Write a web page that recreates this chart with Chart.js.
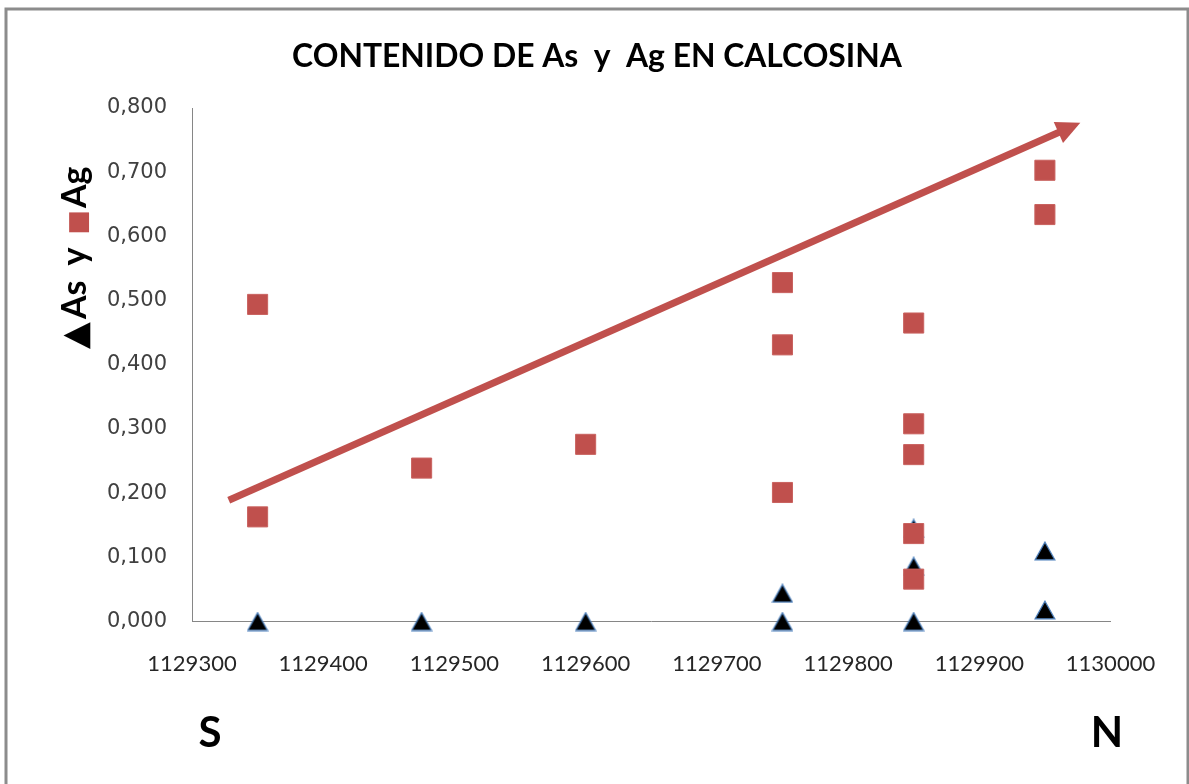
<!DOCTYPE html>
<html><head><meta charset="utf-8">
<script src="https://cdn.jsdelivr.net/npm/chart.js@4/dist/chart.umd.min.js"></script>
<style>html,body{margin:0;padding:0;background:#fff}#wrap{position:absolute;left:0;top:0;width:1189px;height:784px}</style>
</head><body><div id="wrap"><canvas id="c" width="1189" height="784"></canvas></div>
<script>
// ---- data ----
const titleText = 'CONTENIDO DE As  y  Ag EN CALCOSINA';
const xMin = 1129300, xMax = 1130000, xStep = 100;
const yMin = 0, yMax = 0.8, yStep = 0.1;
const agX = [1129350, 1129350, 1129475, 1129600, 1129750, 1129750, 1129750, 1129850, 1129850, 1129850, 1129850, 1129850, 1129950, 1129950];
const agY = [0.494, 0.163, 0.239, 0.276, 0.528, 0.431, 0.201, 0.465, 0.308, 0.260, 0.137, 0.066, 0.703, 0.634];
const asX = [1129350, 1129475, 1129600, 1129750, 1129750, 1129850, 1129850, 1129850, 1129950, 1129950];
const asY = [0.000, 0.000, 0.000, 0.044, 0.000, 0.145, 0.086, 0.000, 0.110, 0.018];
const trendX = [1129328, 1129977];
const trendY = [0.189, 0.777];
const FONT = 'Lato, "Open Sans", "DejaVu Sans", sans-serif';
const yLabelParts = [
  {t: '▲', c: '#000000', f: 'bold 35px "DejaVu Sans"', gap: 3},
  {t: 'As', c: '#000000', f: 'bold 34px ' + FONT, gap: 15},
  {t: 'y', c: '#000000', f: 'bold 34px ' + FONT, gap: 13},
  {t: '■', c: '#C0504D', f: '26px "DejaVu Sans"', gap: 2},
  {t: 'Ag', c: '#000000', f: 'bold 34px ' + FONT, gap: 0}
];
const sideLabels = [{t: 'S', x: 210}, {t: 'N', x: 1107}];

// ---- styles ----
const RED = '#C0504D';
const triCanvas = document.createElement('canvas');
triCanvas.width = 22; triCanvas.height = 20;
(function () {
  const g = triCanvas.getContext('2d');
  g.beginPath();
  g.moveTo(11, 1.2); g.lineTo(20.8, 18.8); g.lineTo(1.2, 18.8); g.closePath();
  g.fillStyle = '#000'; g.fill();
  g.lineWidth = 1.3; g.strokeStyle = '#4A7EBB'; g.stroke();
})();

const deco = {
  id: 'deco',
  beforeDraw(chart) {
    const ctx = chart.ctx;
    ctx.save();
    ctx.fillStyle = '#fff';
    ctx.fillRect(0, 0, chart.width, chart.height);
    ctx.strokeStyle = '#8c8c8c';
    ctx.lineWidth = 3;
    ctx.beginPath();
    ctx.moveTo(6, 800); ctx.lineTo(6, 9); ctx.lineTo(1188, 9); ctx.lineTo(1188, 800);
    ctx.stroke();
    ctx.restore();
  },
  afterDatasetsDraw(chart) {
    const ctx = chart.ctx, xs = chart.scales.x, ys = chart.scales.y;
    const x1 = xs.getPixelForValue(trendX[0]), y1 = ys.getPixelForValue(trendY[0]);
    const x2 = xs.getPixelForValue(trendX[1]), y2 = ys.getPixelForValue(trendY[1]);
    const a = Math.atan2(y2 - y1, x2 - x1), c = Math.cos(a), s = Math.sin(a);
    const hl = 24, hw = 11.5;
    const bx = x2 - hl * c, by = y2 - hl * s;
    ctx.save();
    ctx.strokeStyle = RED; ctx.fillStyle = RED;
    ctx.lineWidth = 7; ctx.lineCap = 'butt';
    ctx.beginPath(); ctx.moveTo(x1, y1); ctx.lineTo(bx + 2 * c, by + 2 * s); ctx.stroke();
    ctx.beginPath();
    ctx.moveTo(x2, y2);
    ctx.lineTo(bx - hw * s, by + hw * c);
    ctx.lineTo(bx + hw * s, by - hw * c);
    ctx.closePath(); ctx.fill();
    ctx.restore();
  },
  afterDraw(chart) {
    const ctx = chart.ctx;
    ctx.save();
    // title
    ctx.fillStyle = '#000';
    ctx.textBaseline = 'alphabetic';
    ctx.font = 'bold 32px ' + FONT;
    let w = ctx.measureText(titleText).width;
    const fs = 32 * 610 / w;
    ctx.font = 'bold ' + fs.toFixed(2) + 'px ' + FONT;
    ctx.textAlign = 'center';
    ctx.fillText(titleText, 597, 67);
    // S / N
    ctx.font = 'bold 42px ' + FONT;
    sideLabels.forEach(l => ctx.fillText(l.t, l.x, 747));
    // rotated y label
    ctx.translate(86, 349);
    ctx.rotate(-Math.PI / 2);
    ctx.textAlign = 'left';
    let px = 0;
    yLabelParts.forEach(p => {
      ctx.font = p.f; ctx.fillStyle = p.c;
      ctx.fillText(p.t, px, 0);
      px += ctx.measureText(p.t).width + p.gap;
    });
    ctx.restore();
  }
};

new Chart(document.getElementById('c'), {
  type: 'scatter',
  data: {
    datasets: [
      {
        label: 'Ag',
        data: agX.map((x, i) => ({x: x, y: agY[i]})),
        pointStyle: 'rect', pointRadius: 14.2, pointHoverRadius: 14.2,
        backgroundColor: RED, borderColor: '#c9625f', borderWidth: 1,
        order: 0, clip: false
      },
      {
        label: 'As',
        data: asX.map((x, i) => ({x: x, y: asY[i]})),
        pointStyle: triCanvas, pointRadius: 10, pointHoverRadius: 10,
        backgroundColor: '#000', borderColor: '#4A7EBB',
        order: 1, clip: false
      }
    ]
  },
  options: {
    responsive: false, animation: false, devicePixelRatio: 1,
    layout: {padding: {top: 108, right: 78.5, left: 0, bottom: 0}},
    plugins: {legend: {display: false}, tooltip: {enabled: false}, title: {display: false}},
    events: [],
    scales: {
      x: {
        type: 'linear', min: xMin, max: xMax,
        ticks: {stepSize: xStep, autoSkip: false, maxRotation: 0, padding: 29,
          color: '#262626', font: {family: FONT, size: 22},
          callback: v => String(v)},
        grid: {color: 'rgba(0,0,0,0)', drawTicks: false},
        border: {display: true, color: '#868686', width: 1},
        afterFit: s => { s.height = 162.5; }
      },
      y: {
        type: 'linear', min: yMin, max: yMax,
        ticks: {stepSize: yStep, padding: 25,
          color: '#404040', font: {family: 'DejaVu Sans', size: 21},
          callback: v => v.toFixed(3).replace('.', ',')},
        grid: {color: 'rgba(0,0,0,0)', drawTicks: false},
        border: {display: true, color: '#868686', width: 1},
        afterFit: s => { s.width = 192; }
      }
    }
  },
  plugins: [deco]
});
</script></body></html>
